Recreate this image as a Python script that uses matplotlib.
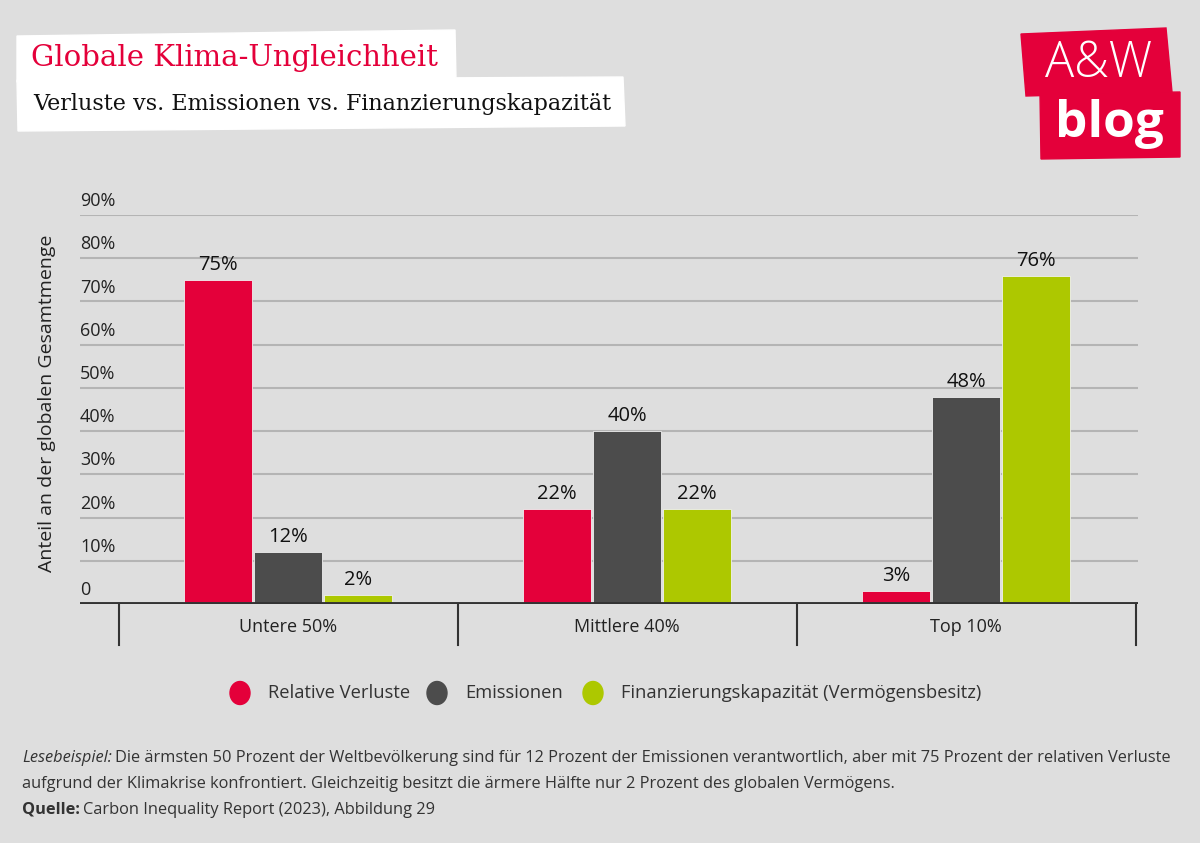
import matplotlib
matplotlib.use("Agg")
import matplotlib.pyplot as plt
import matplotlib.transforms as mtransforms
from matplotlib.patches import Polygon, Ellipse
import numpy as np

categories = ["Untere 50%", "Mittlere 40%", "Top 10%"]
series_names = ["Relative Verluste", "Emissionen", "Finanzierungskapazität (Vermögensbesitz)"]
relative_verluste = [75, 22, 3]
emissionen = [12, 40, 48]
finanzierung = [2, 22, 76]
yticks = [0, 10, 20, 30, 40, 50, 60, 70, 80, 90]
ytick_labels = ["0", "10%", "20%", "30%", "40%", "50%", "60%", "70%", "80%", "90%"]
colors = ["#e4003a", "#4c4c4c", "#adc800"]
BG = "#dedede"

plt.rcParams['font.family'] = ['Open Sans', 'DejaVu Sans']

fig = plt.figure(figsize=(12, 8.43), dpi=100, facecolor=BG)
ax = fig.add_axes([80/1200, 1-604/843, (1138-80)/1200, (604-215)/843])
ax.set_facecolor(BG)
x = np.arange(len(categories))
ax.set_xlim(-0.614, 2.507)
ax.set_ylim(0, 90)

# gridlines
for v in yticks[1:]:
    ax.axhline(v, color="#b4b4b4", lw=1.5, zorder=0)
ax.axhline(0, color="#333333", lw=2.8, zorder=3)

width = 0.2
step = 0.207
all_series = [relative_verluste, emissionen, finanzierung]
for i, vals in enumerate(all_series):
    bars = ax.bar(x + (i-1)*step, vals, width, color=colors[i], edgecolor="#f0f0f0",
                  linewidth=0.6, zorder=2)
    for b, v in zip(bars, vals):
        ax.annotate(f"{v}%", (b.get_x()+b.get_width()/2, v), xytext=(0, 3.5),
                    textcoords="offset points", ha="center", va="bottom",
                    fontsize=14.5, color="#111111")

for s in ax.spines.values():
    s.set_visible(False)
ax.set_xticks([])
ax.set_yticks([])

# category dividers & labels
for d in [-0.5, 0.5, 1.5, 2.5]:
    ax.plot([d, d], [0, -9.5], color="#333333", lw=1.5, clip_on=False, zorder=3)
for xi, c in zip(x, categories):
    ax.text(xi, -5.3, c, ha="center", va="center", fontsize=13, color="#222222")

# y tick labels
tr = mtransforms.offset_copy(ax.get_yaxis_transform(), fig=fig, x=0, y=3.5, units="points")
for v, l in zip(yticks, ytick_labels):
    ax.text(0.0, v, l, transform=tr, ha="left", va="bottom", fontsize=13, color="#222222")

fig.text(47/1200, 1-403/843, "Anteil an der globalen Gesamtmenge", rotation=90,
         ha="center", va="center", fontsize=14, color="#222222")

# overlay for decoration in pixel coordinates
ov = fig.add_axes([0, 0, 1, 1], zorder=-1)
ov.set_xlim(0, 1200)
ov.set_ylim(843, 0)
ov.axis("off")
ov.add_patch(Polygon([(17, 36), (455, 30), (456, 80), (17, 82)], closed=True, color="white"))
ov.add_patch(Polygon([(17, 80), (623, 77), (625, 126), (18, 131)], closed=True, color="white"))

ov2 = fig.add_axes([0, 0, 1, 1], zorder=5)
ov2.set_xlim(0, 1200)
ov2.set_ylim(843, 0)
ov2.axis("off")
ov2.patch.set_alpha(0)
ov2.add_patch(Polygon([(1021, 34), (1166, 28), (1172, 92), (1026, 96)], closed=True, color="#e4003a"))
ov2.add_patch(Polygon([(1040, 94), (1180, 92), (1180, 157), (1041, 159)], closed=True, color="#e4003a"))
ov2.text(1099, 64, "A&W", ha="center", va="center", fontsize=35, color="white",
         fontweight="light", family=["Open Sans", "DejaVu Sans"])
ov2.text(1109, 124, "blog", ha="center", va="center", fontsize=37, color="white",
         fontweight="bold", family=["Open Sans", "DejaVu Sans"])

# titles
fig.text(31/1200, 1-58/843, "Globale Klima-Ungleichheit", ha="left", va="center",
         fontsize=21, color="#e4003a", family=["DejaVu Serif"])
fig.text(33/1200, 1-104/843, "Verluste vs. Emissionen vs. Finanzierungskapazität",
         ha="left", va="center", fontsize=16, color="#111111", family=["DejaVu Serif"])

# legend
leg_items = [(240, series_names[0]), (437, series_names[1]), (593, series_names[2])]
for (cx, name), col in zip(leg_items, colors):
    ov2.add_patch(Ellipse((cx, 693), 20, 23, color=col))
    ov2.text(cx + 28, 693, name, ha="left", va="center", fontsize=13.2, color="#333333")

# footer
fs = 11.8
t = fig.text(22/1200, 1-758/843, "Lesebeispiel:", ha="left", va="center", fontsize=fs,
             style="italic", color="#333333")
fig.canvas.draw()
bb = t.get_window_extent()
fig.text(bb.x1/1200 + 3/1200, 1-758/843,
         "Die ärmsten 50 Prozent der Weltbevölkerung sind für 12 Prozent der Emissionen verantwortlich, aber mit 75 Prozent der relativen Verluste",
         ha="left", va="center", fontsize=fs, color="#333333")
fig.text(22/1200, 1-784/843,
         "aufgrund der Klimakrise konfrontiert. Gleichzeitig besitzt die ärmere Hälfte nur 2 Prozent des globalen Vermögens.",
         ha="left", va="center", fontsize=fs, color="#333333")
t2 = fig.text(22/1200, 1-810/843, "Quelle:", ha="left", va="center", fontsize=fs,
              fontweight="bold", color="#333333")
fig.canvas.draw()
bb2 = t2.get_window_extent()
fig.text(bb2.x1/1200 + 3/1200, 1-810/843, "Carbon Inequality Report (2023), Abbildung 29",
         ha="left", va="center", fontsize=fs, color="#333333")

fig.savefig("out.png", dpi=100, facecolor=BG)
